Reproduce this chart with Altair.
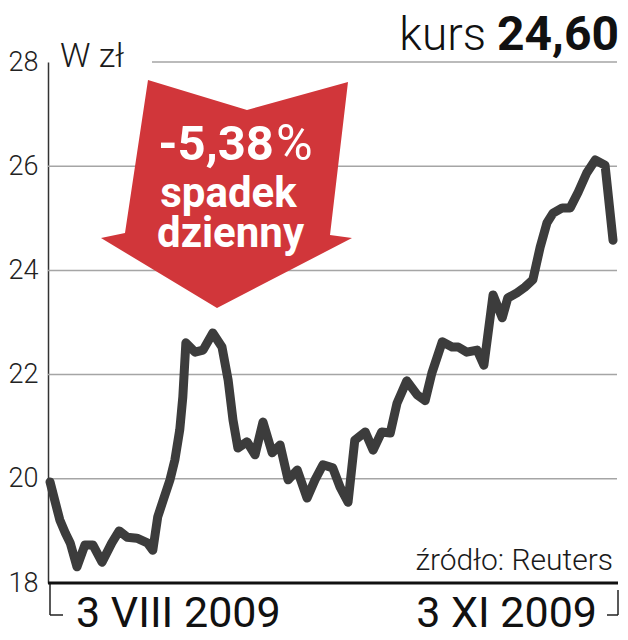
import altair as alt
import pandas as pd

# ---- data ----
days = [0, 1.6, 2.5, 3.3, 4.4, 5.7, 7.0, 8.5, 10.1, 11.3, 12.6, 14.2, 15.9, 16.8,
        17.6, 18.5, 19.6, 20.4, 21.2, 21.7, 22.2, 23.7, 25.0, 26.6, 28.1, 29.1,
        29.9, 30.7, 32.2, 33.5, 34.8, 36.3, 37.6, 38.9, 40.4, 42.0, 43.3, 44.6,
        46.2, 47.4, 48.7, 49.8, 51.5, 52.8, 54.2, 55.6, 56.7, 58.3, 60.0, 61.3,
        62.4, 64.1, 65.7, 66.7, 68.1, 69.8, 70.9, 72.4, 73.9, 74.8, 76.3, 77.6,
        78.9, 80.1, 81.2, 82.2, 83.7, 85.0, 86.3, 87.7, 89.1, 90.7, 92.0]
prices = [19.94, 19.21, 18.96, 18.77, 18.31, 18.73, 18.73, 18.40, 18.77, 19.00,
          18.88, 18.86, 18.77, 18.63, 19.27, 19.59, 19.98, 20.36, 20.94, 21.57,
          22.61, 22.43, 22.47, 22.80, 22.53, 21.90, 21.13, 20.59, 20.71, 20.46,
          21.09, 20.50, 20.65, 19.98, 20.17, 19.63, 19.98, 20.27, 20.21, 19.84,
          19.55, 20.74, 20.90, 20.55, 20.90, 20.88, 21.45, 21.88, 21.61, 21.50,
          22.03, 22.63, 22.53, 22.53, 22.43, 22.47, 22.18, 23.53, 23.09, 23.47,
          23.57, 23.68, 23.82, 24.45, 24.91, 25.10, 25.20, 25.20, 25.50, 25.87,
          26.12, 26.02, 24.58]
y_ticks = [18, 20, 22, 24, 26, 28]
grid_values = [20, 22, 24, 26]
x_label_days = [0, 92]
x_labels = ["3 VIII 2009", "3 XI 2009"]

W, H = 569, 521
FONT = "Roboto"
RED = "#d1363a"
LINE = "#3c3c3c"

df = pd.DataFrame({"day": days, "price": prices})
x_scale = alt.Scale(domain=[-0.33, 92.65], nice=False, zero=False)
y_scale = alt.Scale(domain=[18, 28], nice=False, zero=False)
y_axis = alt.Axis(
    values=y_ticks, grid=False, ticks=False, labelPadding=10, labelFontSize=27,
    labelFont=FONT, labelFontWeight=300, labelColor="#222222", format="d",
    domainColor="#333333", domainWidth=1.5, title=None)

grid = alt.Chart(pd.DataFrame({"v": grid_values})).mark_rule(
    color="#a5a5a5", strokeWidth=1.5
).encode(y=alt.Y("v:Q", scale=y_scale, axis=y_axis), x=alt.value(0), x2=alt.value(W))

grid_top = alt.Chart(pd.DataFrame({"v": [y_ticks[-1]]})).mark_rule(
    color="#a5a5a5", strokeWidth=1.5
).encode(y=alt.Y("v:Q", scale=y_scale, axis=y_axis), x=alt.value(104), x2=alt.value(W))

bottom = alt.Chart(pd.DataFrame({"v": [y_ticks[0]]})).mark_rule(
    color="#111111", strokeWidth=3
).encode(y=alt.Y("v:Q", scale=y_scale, axis=y_axis), x=alt.value(0), x2=alt.value(W + 1))

# arrow polygon as a custom symbol path (unit coords)
ARROW = ("M -0.6255 -0.9084 L 0.1633 -0.6693 L 0.9681 -0.8924 L 0.8247 0.3267 "
         "L 1.0 0.3506 L -0.0757 0.9084 L -1.0 0.3506 L -0.8088 0.3108 Z")
arrow = alt.Chart(pd.DataFrame({"a": [0]})).mark_point(
    shape=ARROW, filled=True, color=RED, opacity=1, strokeWidth=0, size=63001
).encode(x=alt.value(178.5), y=alt.value(132))


def txt(text, x, y, size, weight, color="#1a1a1a", align="left"):
    return alt.Chart(pd.DataFrame({"t": [text]})).mark_text(
        text=text, font=FONT, fontSize=size, fontWeight=weight, color=color,
        align=align, baseline="alphabetic"
    ).encode(x=alt.value(x), y=alt.value(y))


texts = [
    txt("-5,38", 226, 98, 49, "bold", "white", "right"),
    txt("%", 228, 98, 50, 400, "white", "left"),
    txt("spadek", 180.5, 145, 42, "bold", "white", "center"),
    txt("dzienny", 182.5, 185, 42, "bold", "white", "center"),
    txt("W zł", 12, 5, 34, 300),
    txt("kurs", 438, -12, 46, 300, "#111111", "right"),
    txt("24,60", 571, -12, 48, "bold", "#111111", "right"),
    txt("źródło: Reuters", 565, 508, 30, 300, "#1a1a1a", "right"),
]

lab_df = pd.DataFrame({"day": x_label_days, "label": x_labels})
xlab_left = alt.Chart(lab_df.iloc[[0]]).mark_text(
    font=FONT, fontSize=43, fontWeight=400, color="#111111", align="left",
    baseline="alphabetic", dx=26
).encode(x=alt.X("day:Q", scale=x_scale, axis=None), y=alt.value(565), text="label:N")
xlab_right = alt.Chart(lab_df.iloc[[1]]).mark_text(
    font=FONT, fontSize=43, fontWeight=400, color="#111111", align="right",
    baseline="alphabetic", dx=-16
).encode(x=alt.X("day:Q", scale=x_scale, axis=None), y=alt.value(565), text="label:N")


def rule(x1, y1, x2, y2):
    return alt.Chart(pd.DataFrame({"a": [0]})).mark_rule(
        color="#222222", strokeWidth=1.5
    ).encode(x=alt.value(x1), y=alt.value(y1), x2=alt.value(x2), y2=alt.value(y2))


brackets = [
    rule(2, 521, 2, 553), rule(2, 553, 15, 553),
    rule(570, 528, 570, 553), rule(559, 553, 570, 553),
]

line = alt.Chart(df).mark_line(
    color=LINE, strokeWidth=9, strokeCap="round", strokeJoin="round"
).encode(
    x=alt.X("day:Q", scale=x_scale, axis=None),
    y=alt.Y("price:Q", scale=y_scale, axis=y_axis),
)

chart = alt.layer(
    grid, grid_top, arrow, *texts, xlab_left, xlab_right, *brackets, line, bottom
).properties(
    width=W, height=H,
    autosize=alt.AutoSizeParams(type="none"),
    padding={"left": 40, "top": 54, "right": 3, "bottom": 49},
).configure_view(stroke=None)

chart.save("out.html", embed_options={"renderer": "svg", "actions": False})
